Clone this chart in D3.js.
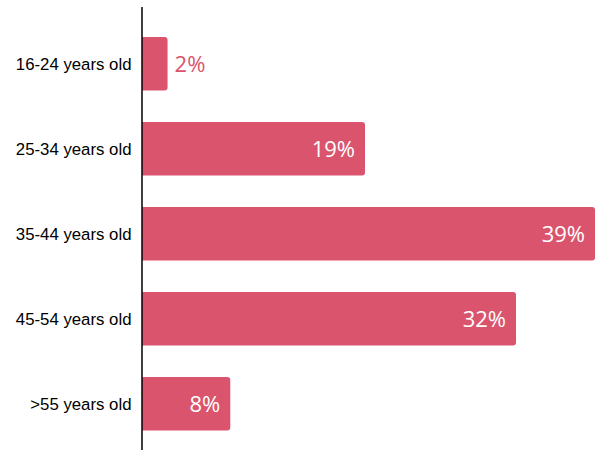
<!DOCTYPE html>
<html>
<head>
<meta charset="utf-8">
<title>Age groups</title>
<script src="https://d3js.org/d3.v7.min.js"></script>
<style>
	body { margin: 0; background: #fff; }
	.cat { font-family: 'Liberation Sans', Arial, sans-serif; font-size: 16.8px; fill: #000; }
	.val { font-family: 'Open Sans', sans-serif; font-size: 22px; font-weight: 400; }
</style>
</head>
<body>
<script>
// data
var ageGroups = ["16-24 years old", "25-34 years old", "35-44 years old", "45-54 years old", ">55 years old"];
var shares = [2.2, 19.2, 39, 32.2, 7.6];
var shareLabels = ["2%", "19%", "39%", "32%", "8%"];

var width = 597, height = 450;
var margin = {left: 142};
var barColor = "#d9546c";

var svg = d3.select("body").append("svg")
	.attr("width", width)
	.attr("height", height);

var x = d3.scaleLinear().domain([0, 39]).range([0, 453]);
var y = d3.scaleBand().domain(ageGroups).range([21.3, 446.3])
	.paddingInner(0.37).paddingOuter(0.185);

var g = svg.append("g").attr("transform", "translate(" + margin.left + ",0)");

// bar with rounded right corners only
function barPath(w, h, r) {
	r = Math.min(r, w);
	return "M0,0H" + (w - r) + "Q" + w + ",0 " + w + "," + r +
		"V" + (h - r) + "Q" + w + "," + h + " " + (w - r) + "," + h + "H0Z";
}

var rows = g.selectAll(".row")
	.data(ageGroups)
	.enter().append("g")
	.attr("class", "row")
	.attr("transform", function(d) { return "translate(0," + y(d) + ")"; });

rows.append("path")
	.attr("d", function(d, i) { return barPath(x(shares[i]), y.bandwidth(), 3); })
	.attr("fill", barColor);

rows.append("text")
	.attr("class", "cat")
	.attr("x", -10.5)
	.attr("y", y.bandwidth() / 2)
	.attr("dy", "0.35em")
	.attr("text-anchor", "end")
	.text(function(d) { return d; });

rows.append("text")
	.attr("class", "val")
	.attr("x", function(d, i) {
		var w = x(shares[i]);
		return w > 60 ? w - 10 : w + 7;
	})
	.attr("y", y.bandwidth() / 2)
	.attr("dy", "0.36em")
	.attr("text-anchor", function(d, i) { return x(shares[i]) > 60 ? "end" : "start"; })
	.attr("fill", function(d, i) { return x(shares[i]) > 60 ? "#fff" : barColor; })
	.text(function(d, i) { return shareLabels[i]; });

// vertical axis line
svg.append("line")
	.attr("x1", margin.left).attr("x2", margin.left)
	.attr("y1", 7).attr("y2", height)
	.attr("stroke", "#000")
	.attr("stroke-width", 1.5);
</script>
</body>
</html>
